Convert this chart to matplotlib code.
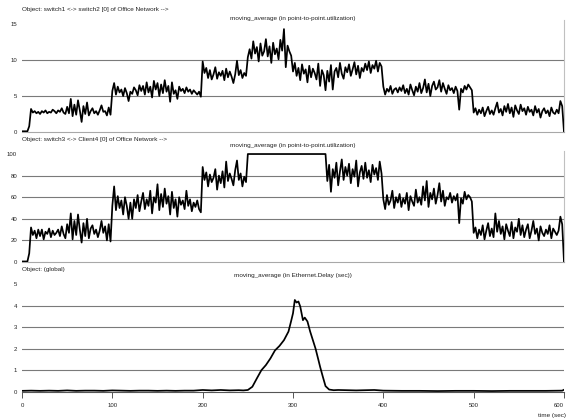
import matplotlib
matplotlib.use('Agg')
import numpy as np
import matplotlib.pyplot as plt

# time axis for the two utilization panels (one sample every 2 sec)
util_time = np.arange(0, 601, 2)

# switch1 <-> switch2 utilization
util_sw1_sw2 = [
    0.1, 0.1, 0.1, 0.1, 0.8, 3.2, 2.7, 2.9, 2.6, 2.8,
    2.5, 2.9, 2.7, 3.0, 2.6, 2.8, 2.7, 3.1, 2.9, 2.6,
    3.0, 2.8, 3.3, 2.7, 2.5, 3.5, 2.6, 4.6, 2.2, 3.8,
    2.4, 4.4, 3.0, 1.4, 3.6, 2.5, 4.1, 2.3, 2.9, 3.3,
    2.6, 2.9, 2.4, 3.0, 3.7, 2.8, 2.9, 2.3, 3.4, 2.4,
    5.7, 6.8, 5.2, 6.3, 5.5, 5.9, 5.0, 6.1, 5.4, 4.3,
    5.6, 5.3, 6.2, 5.8, 5.1, 6.5, 5.7, 6.4, 5.2, 6.9,
    5.5, 6.3, 4.8, 7.1, 5.9, 6.8, 5.0, 6.6, 5.4, 7.2,
    5.6, 6.4, 4.2, 6.9, 5.3, 5.8, 4.6, 6.3, 5.7, 6.0,
    5.4, 6.2, 5.6, 5.9, 5.3, 5.8, 5.5, 5.2, 5.6, 4.9,
    9.8, 8.2, 8.9, 7.5, 8.6, 7.3, 8.0, 9.0, 7.4, 8.3,
    7.8, 8.5, 7.2, 8.8, 7.6, 8.4, 7.7, 6.8, 8.0, 9.9,
    7.9, 8.6, 7.5, 8.2, 7.8, 10.4, 11.5, 10.2, 12.6, 10.9,
    11.8, 9.8, 12.3, 10.6, 11.2, 12.9, 10.5, 11.9, 9.6, 12.4,
    10.8, 11.6, 10.1, 12.8, 11.3, 14.3, 9.0, 12.0, 11.2, 10.6,
    8.4, 9.6, 7.8, 8.9, 7.2, 9.4, 8.1, 8.7, 6.9, 9.2,
    7.6, 8.8, 8.2, 7.3, 9.5, 6.4, 8.6, 7.9, 5.8, 8.5,
    7.0, 9.3, 5.9, 8.4, 8.9, 7.6, 9.6, 8.1, 7.4, 9.0,
    8.3, 9.4, 7.8, 8.7, 9.7, 8.0, 9.2, 7.5, 8.9, 8.4,
    9.5, 8.6, 9.8, 8.2, 9.3, 8.8, 9.9, 8.4, 9.6, 9.1,
    6.3, 5.2, 6.0, 5.6, 6.4, 5.3, 5.9, 6.1, 5.5, 6.2,
    5.7, 6.5, 5.4, 6.0, 5.2, 6.6, 5.8, 5.1, 6.3, 5.6,
    6.8, 5.4, 6.1, 7.3, 5.5, 6.7, 5.0, 6.4, 7.0, 5.9,
    6.2, 7.2, 5.6, 6.8, 6.0, 5.3, 6.5, 5.8, 6.1, 5.4,
    6.3, 5.7, 3.1, 6.0, 5.5, 6.4, 5.9, 6.6, 6.2, 5.8,
    2.7, 3.3, 2.4, 3.1, 2.6, 3.4, 2.2, 2.9, 3.5, 2.5,
    3.0, 2.4, 3.3, 4.1, 2.7, 3.2, 2.3, 3.6, 2.8, 3.9,
    2.6, 3.4, 2.1, 3.7, 3.0, 2.5, 3.8, 2.9, 3.3, 2.4,
    3.5, 2.8, 3.1, 2.3, 3.6, 2.7, 3.2, 2.0, 2.9, 3.3,
    2.6, 3.0, 2.2, 3.4, 2.7, 2.5, 3.1, 2.6, 4.3, 3.6,
    0.0,
]

# switch3 <-> Client4 utilization
util_sw3_client4 = [
    0.5, 0.5, 0.5, 0.5, 8, 32, 25, 29, 22, 30,
    24, 30, 21, 28, 26, 31, 23, 29, 25, 27,
    30, 24, 33, 26, 22, 35, 27, 45, 21, 38,
    25, 44, 30, 18, 36, 24, 40, 22, 31, 34,
    26, 30, 23, 29, 38, 27, 33, 20, 35, 19,
    52, 70, 48, 61, 50, 57, 44, 60, 52, 40,
    55, 40, 58, 50, 62, 47, 56, 64, 49, 58,
    52, 66, 45, 60, 55, 72, 48, 63, 51, 68,
    54, 61, 44, 65, 50, 58, 42, 60, 53, 57,
    49, 66, 52, 58, 47, 55, 51, 57, 49, 46,
    88, 76, 83, 70, 81, 74, 78, 86, 67, 80,
    73, 84, 69, 93, 75, 82, 77, 71, 85, 94,
    76, 82, 70, 79, 74, 100, 100, 100, 100, 100,
    100, 100, 100, 100, 100, 100, 100, 100, 100, 100,
    100, 100, 100, 100, 100, 100, 100, 100, 100, 100,
    100, 100, 100, 100, 100, 100, 100, 100, 100, 100,
    100, 100, 100, 100, 100, 100, 100, 100, 100, 75,
    90, 65, 86, 78, 92, 71, 84, 95, 76, 88,
    80, 91, 73, 86, 79, 94, 70, 83, 89, 77,
    92, 78, 85, 74, 90, 81, 87, 76, 93, 82,
    58, 49, 62, 53, 57, 66, 50, 60, 55, 63,
    51, 59, 54, 64, 48, 61, 56, 52, 67, 55,
    60, 53, 70, 57, 75, 51, 64, 58, 68, 54,
    62, 73, 56, 66, 52, 60, 58, 64, 55, 61,
    57, 63, 36, 59, 54, 65, 58, 62, 60, 56,
    27, 32, 22, 30, 25, 34, 21, 29, 36, 24,
    31, 23, 45, 28, 38, 26, 33, 21, 35, 29,
    24, 37, 22, 32, 28, 40, 25, 34, 23, 30,
    35, 22, 29, 38, 26, 31, 20, 33, 27, 24,
    30, 26, 34, 22, 31, 28, 25, 29, 42, 35,
    0,
]

# global Ethernet delay (sec)
delay_time = [0, 10, 20, 30, 40, 50, 60, 70, 80, 90, 100, 110, 120, 130, 140,
              150, 160, 170, 180, 190, 200, 210, 220, 230, 240, 245, 250, 255,
              260, 265, 270, 275, 280, 285, 290, 295, 298, 300, 302, 304, 306,
              308, 311, 313, 316, 319, 322, 325, 328, 330, 333, 336, 340, 345,
              350, 360, 370, 380, 390, 400, 420, 440, 460, 480, 500, 520, 540,
              560, 580, 598, 600]
delay_sec = [0.04, 0.05, 0.04, 0.05, 0.04, 0.06, 0.04, 0.05, 0.05, 0.04, 0.06,
             0.05, 0.04, 0.05, 0.05, 0.04, 0.05, 0.04, 0.05, 0.05, 0.08, 0.06,
             0.08, 0.06, 0.07, 0.06, 0.08, 0.23, 0.62, 1.0, 1.24, 1.55, 1.92,
             2.13, 2.4, 2.8, 3.3, 3.65, 4.27, 4.15, 4.2, 3.97, 3.33, 3.45, 3.27,
             2.8, 2.4, 2.0, 1.5, 1.16, 0.7, 0.26, 0.1, 0.07, 0.08, 0.07, 0.06,
             0.07, 0.08, 0.05, 0.04, 0.04, 0.03, 0.04, 0.04, 0.03, 0.04, 0.04,
             0.04, 0.05, 0.09]

object_labels = ["Object: switch1 <-> switch2 [0] of Office Network -->",
                 "Object: switch3 <-> Client4 [0] of Office Network -->",
                 "Object: (global)"]
titles = ["moving_average (in point-to-point.utilization)",
          "moving_average (in point-to-point.utilization)",
          "moving_average (in Ethernet.Delay (sec))"]
y_ticks = [[0, 5, 10, 15], [0, 20, 40, 60, 80, 100], [0, 1, 2, 3, 4, 5]]
x_ticks = [0, 100, 200, 300, 400, 500, 600]

W, H = 567, 420
plt.rcParams['font.family'] = ['Liberation Sans', 'DejaVu Sans']
fig = plt.figure(figsize=(W / 100, H / 100), dpi=100)
fig.patch.set_facecolor('white')

def fx(px):
    return px / W

def fy(py):
    return 1 - py / H

txt_col = '#222222'
left, right = 22, 564
# (pixel bottom, pixel top, ylim top) for each panel
boxes = [(132, 20, 15.56), (262, 151, 102.8), (391.7, 280, 5.2)]
label_y = [(10, 18.5), (139.5, 146), (269, 276)]
series = [(util_time, util_sw1_sw2), (util_time, util_sw3_client4), (delay_time, delay_sec)]

for i in range(3):
    bot, top, ymax = boxes[i]
    ax = fig.add_axes([fx(left), fy(bot), fx(right) - fx(left), fy(top) - fy(bot)])
    ax.set_xlim(0, 600)
    ax.set_ylim(0, ymax)
    for v in y_ticks[i][1:-1]:
        ax.axhline(v, color='#7a7a7a', lw=0.8, zorder=1)
    ax.plot(series[i][0], series[i][1], color='black', lw=1.25, zorder=3)
    ax.set_yticks(y_ticks[i])
    ax.tick_params(axis='y', length=0, pad=3.5, labelsize=4.3, labelcolor=txt_col)
    ax.spines['left'].set_visible(False)
    ax.spines['top'].set_visible(False)
    if i < 2:
        ax.set_xticks([])
        ax.spines['bottom'].set_color('#a8a8a8')
        ax.spines['right'].set_color('#c0c0c0')
        ax.spines['bottom'].set_linewidth(0.8)
        ax.spines['right'].set_linewidth(0.8)
    else:
        ax.spines['right'].set_visible(False)
        ax.spines['bottom'].set_color('#555555')
        ax.spines['bottom'].set_linewidth(0.8)
        ax.set_xticks(x_ticks)
        ax.tick_params(axis='x', length=4, width=0.7, color='#555555', pad=4,
                       labelsize=4.3, labelcolor=txt_col)
        # last label sits at the right edge of the picture
        ax.get_xticklabels()[-1].set_horizontalalignment('right')
    fig.text(fx(left), fy(label_y[i][0]), object_labels[i], fontsize=4.6,
             color=txt_col, ha='left', va='center')
    fig.text(fx((left + right) / 2), fy(label_y[i][1]), titles[i], fontsize=4.6,
             color=txt_col, ha='center', va='center')

fig.text(fx(566), fy(415), "time (sec)", fontsize=4.6, color=txt_col, ha='right', va='center')

plt.savefig('out.png', dpi=100, facecolor='white')
